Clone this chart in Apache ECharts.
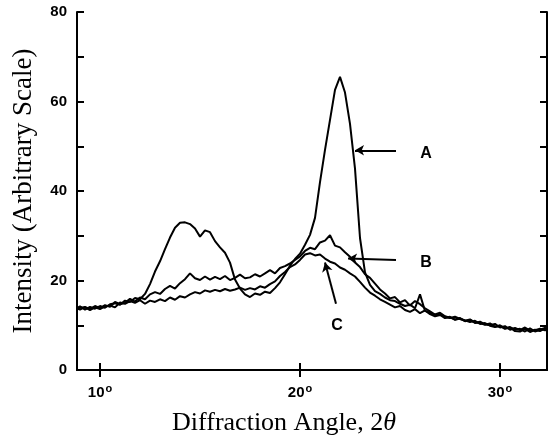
<!DOCTYPE html>
<html>
<head>
<meta charset="utf-8">
<script src="https://cdn.jsdelivr.net/npm/echarts@6/dist/echarts.min.js"></script>
<style>
  html, body { margin: 0; padding: 0; background: #fff; }
  #chart { width: 557px; height: 441px; }
</style>
</head>
<body>
<div id="chart"></div>
<script>
// diffraction angle, 2θ (degrees)
const angles = [
  8.75, 9.0, 9.25, 9.5, 9.75, 10.0, 10.25, 10.5,
  10.75, 11.0, 11.25, 11.5, 11.75, 12.0, 12.25, 12.5,
  12.75, 13.0, 13.25, 13.5, 13.75, 14.0, 14.25, 14.5,
  14.75, 15.0, 15.25, 15.5, 15.75, 16.0, 16.25, 16.5,
  16.75, 17.0, 17.25, 17.5, 17.75, 18.0, 18.25, 18.5,
  18.75, 19.0, 19.25, 19.5, 19.75, 20.0, 20.25, 20.5,
  20.75, 21.0, 21.25, 21.5, 21.75, 22.0, 22.25, 22.5,
  22.75, 23.0, 23.25, 23.5, 23.75, 24.0, 24.25, 24.5,
  24.75, 25.0, 25.25, 25.5, 25.75, 26.0, 26.25, 26.5,
  26.75, 27.0, 27.25, 27.5, 27.75, 28.0, 28.25, 28.5,
  28.75, 29.0, 29.25, 29.5, 29.75, 30.0, 30.25, 30.5,
  30.75, 31.0, 31.25, 31.5, 31.75, 32.0, 32.25, 32.5
]

const curveA = [
  13.6, 14.2, 13.5, 14.1, 13.7, 14.3, 13.9, 14.7,
  14.9, 14.6, 15.5, 15.2, 16.1, 15.8, 17.0, 19.2,
  22.0, 24.3, 27.0, 29.6, 31.8, 32.9, 33.0, 32.6,
  31.6, 29.8, 31.2, 30.8, 28.8, 27.4, 26.2, 24.0,
  20.2, 18.2, 16.9, 16.3, 17.1, 16.8, 17.5, 17.2,
  18.3, 19.6, 21.4, 23.3, 24.8, 26.0, 28.0, 30.2,
  34.0, 42.0, 49.2, 55.9, 62.6, 65.5, 62.0, 55.0,
  45.0, 29.5, 21.8, 19.0, 17.6, 17.0, 16.2, 15.6,
  15.4, 14.8, 14.3, 14.6, 13.8, 16.9, 13.2, 12.8,
  12.3, 12.6, 11.8, 11.6, 11.9, 11.4, 11.0, 11.3,
  10.6, 10.5, 10.1, 10.4, 9.7, 9.8, 9.2, 9.5,
  8.7, 8.6, 9.2, 8.5, 9.0, 8.7, 9.3, 9.4
]

const curveB = [
  14.0, 13.5, 14.1, 13.6, 14.3, 13.8, 14.5, 14.1,
  15.2, 14.7, 15.0, 15.9, 15.3, 16.2, 15.8, 16.9,
  17.4, 17.0, 18.1, 18.8, 18.2, 19.4, 20.3, 21.6,
  20.5, 20.1, 20.9, 20.2, 20.8, 20.3, 21.0, 20.1,
  20.6, 21.3, 20.5, 20.7, 21.4, 20.9, 21.6, 22.3,
  21.6, 22.8, 23.2, 23.8, 24.6, 25.4, 26.6, 27.3,
  27.0, 28.5, 28.9, 30.1, 27.8, 27.4, 26.3, 25.3,
  24.0, 23.0, 21.4, 20.6, 19.3, 18.0, 17.1, 16.0,
  16.3, 15.1, 15.6, 14.4, 15.4, 14.7, 13.8, 13.1,
  12.4, 12.8, 12.0, 11.7, 11.3, 11.6, 10.9, 11.2,
  10.5, 10.8, 10.2, 10.0, 10.3, 9.5, 9.8, 9.0,
  9.4, 8.9, 9.5, 8.8, 8.9, 9.2, 8.9, 9.1
]

const curveC = [
  13.4, 13.9, 14.0, 13.4, 14.0, 13.6, 14.2, 14.4,
  14.0, 15.1, 14.8, 15.4, 15.0, 15.6, 14.8, 15.5,
  15.2, 15.8, 15.4, 16.2, 15.7, 16.5, 16.2, 16.9,
  17.4, 17.1, 17.8, 17.5, 17.9, 17.6, 18.1, 17.7,
  18.0, 18.4, 17.9, 18.3, 18.0, 18.7, 18.4, 19.2,
  19.8, 21.0, 21.9, 23.0, 23.6, 24.6, 25.8, 26.1,
  25.6, 25.8, 24.9, 24.2, 23.8, 22.9, 22.4, 21.6,
  20.9, 19.7, 18.4, 17.3, 16.6, 15.8, 15.2, 14.6,
  14.0, 14.3, 13.4, 13.0, 13.6, 12.7, 13.3, 12.5,
  12.0, 12.3, 11.6, 11.9, 11.2, 11.5, 11.1, 10.7,
  11.0, 10.3, 10.5, 9.9, 9.6, 10.0, 9.3, 9.6,
  9.0, 9.2, 8.6, 9.3, 8.6, 9.0, 9.4, 8.8
]

const xTicks = [10, 20, 30]
const yTicks = [0, 20, 40, 60, 80]

const chart = echarts.init(document.getElementById('chart'))

const pair = (ys) => angles.map((a, i) => [a, ys[i]])
const lineStyle = { color: '#000', width: 2 }
const tickFont = { color: '#000', fontFamily: 'Liberation Sans', fontWeight: 'bold', fontSize: 15 }
const titleFont = { fontFamily: 'Liberation Serif', fontSize: 26, color: '#000' }

function arrow(tail, head) {
  return [{ coord: tail, symbol: 'none' }, { coord: head, symbol: 'arrow', symbolSize: [8, 9] }]
}
function tag(text, at) {
  return { coord: at, value: text }
}

chart.setOption({
  animation: false,
  backgroundColor: '#fff',
  grid: { left: 77, right: 10, top: 12, bottom: 71 },
  xAxis: [
    {
      type: 'value', min: 8.85, max: 32.35,
      axisLine: { lineStyle: { color: '#000', width: 2 } },
      axisTick: { inside: true, length: 7, lineStyle: { color: '#000', width: 2 }, customValues: xTicks },
      axisLabel: {
        customValues: xTicks, margin: 13,
        formatter: (v) => '{n|' + v + '}{d|o}',
        rich: {
          n: { ...tickFont },
          d: { ...tickFont, fontSize: 11, verticalAlign: 'top', padding: [0, 0, 8, 1] }
        }
      },
      splitLine: { show: false },
      name: 'Diffraction Angle, 2{i|θ}', nameLocation: 'middle', nameGap: 40,
      nameTextStyle: {
        ...titleFont, padding: [0, 56, 0, 0],
        rich: { i: { ...titleFont, fontStyle: 'italic' } }
      }
    },
    {
      type: 'value', position: 'top', min: 8.85, max: 32.35,
      axisLine: { lineStyle: { color: '#000', width: 2 } },
      axisTick: { inside: true, length: 7, lineStyle: { color: '#000', width: 2 }, customValues: xTicks },
      axisLabel: { show: false },
      splitLine: { show: false }
    }
  ],
  yAxis: [
    {
      type: 'value', min: 0, max: 80, interval: 10,
      axisLine: { show: true, lineStyle: { color: '#000', width: 2 } },
      axisTick: { show: true, inside: true, length: 7, lineStyle: { color: '#000', width: 2 } },
      axisLabel: {
        ...tickFont, margin: 10,
        formatter: (v) => (yTicks.includes(v) ? String(v) : '')
      },
      splitLine: { show: false },
      name: 'Intensity (Arbitrary Scale)', nameLocation: 'middle', nameGap: 40,
      nameTextStyle: { ...titleFont, fontSize: 27 }
    },
    {
      type: 'value', position: 'right', min: 0, max: 80, interval: 10,
      axisLine: { show: true, lineStyle: { color: '#000', width: 2 } },
      axisTick: { show: true, inside: true, length: 7, lineStyle: { color: '#000', width: 2 } },
      axisLabel: { show: false },
      splitLine: { show: false }
    }
  ],
  series: [
    {
      name: 'A', type: 'line', data: pair(curveA), showSymbol: false, lineStyle,
      markLine: {
        silent: true, label: { show: false },
        lineStyle: { color: '#000', width: 2, type: 'solid' },
        data: [arrow([24.8, 49.1], [22.75, 49.1]), arrow([24.8, 24.6], [22.4, 24.9]), arrow([21.8, 14.8], [21.25, 24.0])]
      },
      markPoint: {
        silent: true, symbol: 'circle', symbolSize: 0,
        label: { show: true, position: 'inside', formatter: (p) => p.value, fontFamily: 'Liberation Sans', fontWeight: 'bold', fontSize: 16, color: '#000' },
        data: [tag('A', [26.3, 48.3]), tag('B', [26.3, 24.0]), tag('C', [21.85, 10.0])]
      }
    },
    { name: 'B', type: 'line', data: pair(curveB), showSymbol: false, lineStyle },
    { name: 'C', type: 'line', data: pair(curveC), showSymbol: false, lineStyle }
  ]
})
</script>
</body>
</html>
